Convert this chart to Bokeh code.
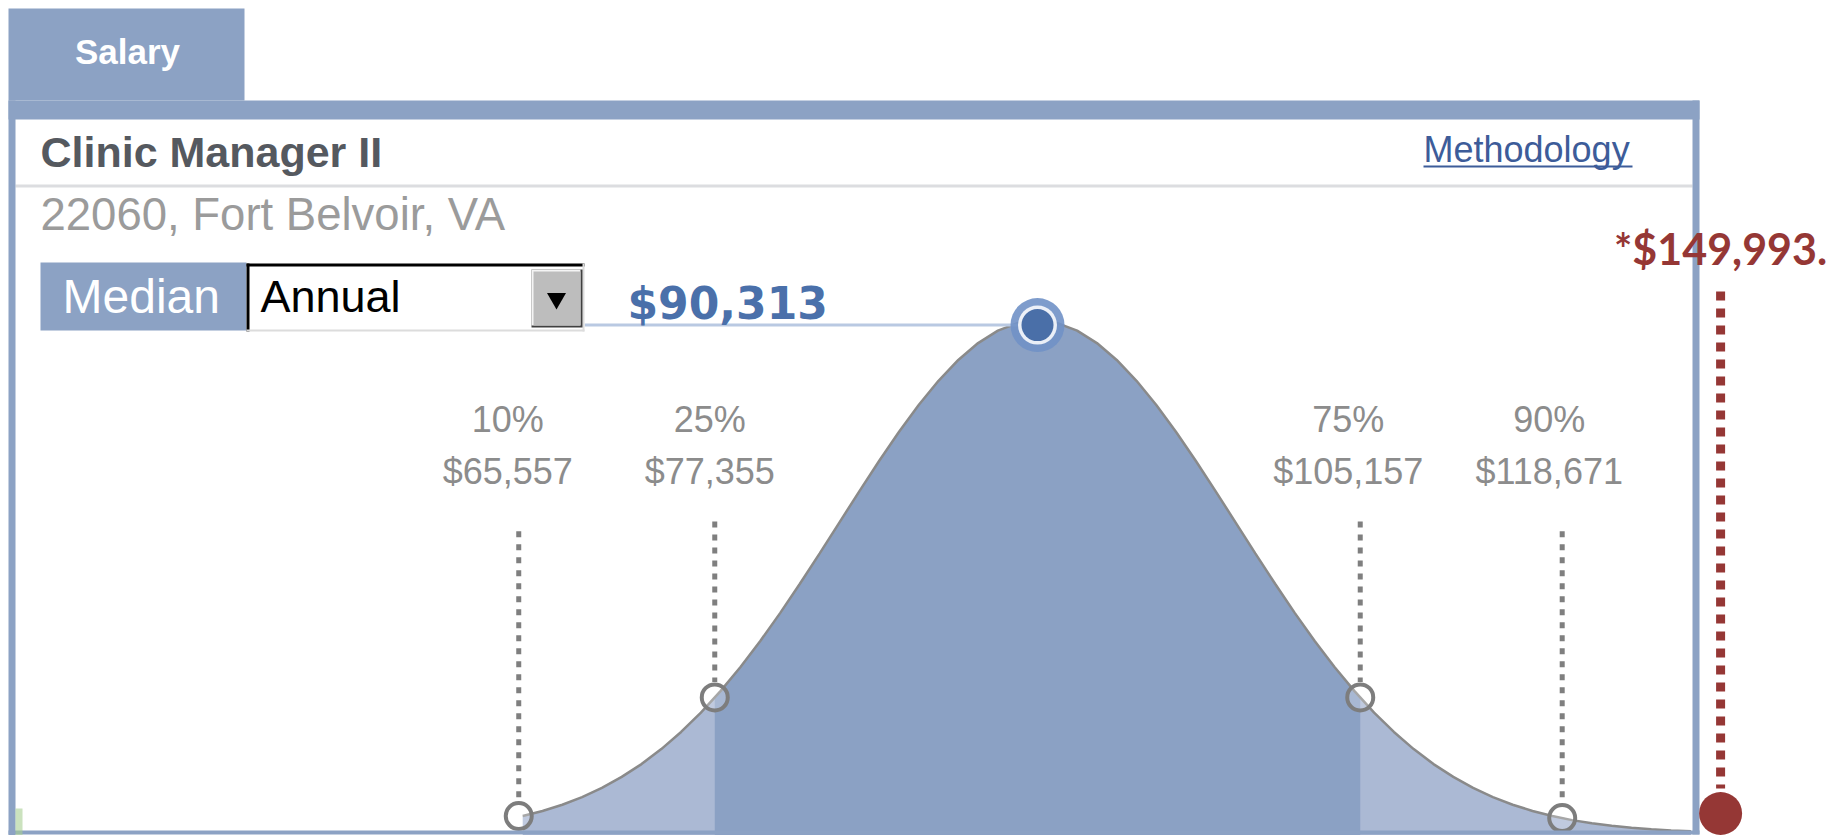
import numpy as np
from bokeh.plotting import figure
from bokeh.models import Range1d, ColumnDataSource
from bokeh.core.properties import value
from bokeh.embed import file_html
from bokeh.resources import INLINE

# ---------------- data ----------------
tab_label = "Salary"
job_title = "Clinic Manager II"
location = "22060, Fort Belvoir, VA"
link_label = "Methodology"
stat_label = "Median"
pay_period = "Annual"

pct_labels = ["10%", "25%", "75%", "90%"]
pct_salaries = [65557, 77355, 105157, 118671]
pct_pos = [-2.62, -1.63, 1.63, 2.65]          # location on the bell, in sd units
median_salary = 90313
median_pos = 0.0
max_salary = 149993
max_pos = 3.45

# bell-shape heights (relative to peak), step 0.1 sd
curve_z = [round(-2.6 + 0.1 * i, 1) for i in range(60)]
curve_h = [0.0340, 0.0439, 0.0561, 0.0710, 0.0889, 0.1103, 0.1353, 0.1645, 0.1979, 0.2357,
           0.2780, 0.3247, 0.3753, 0.4296, 0.4868, 0.5461, 0.6065, 0.6670, 0.7261, 0.7827,
           0.8353, 0.8825, 0.9231, 0.9560, 0.9802, 0.9950, 1.0000, 0.9950, 0.9802, 0.9560,
           0.9231, 0.8825, 0.8353, 0.7827, 0.7261, 0.6670, 0.6065, 0.5461, 0.4868, 0.4296,
           0.3753, 0.3247, 0.2780, 0.2357, 0.1979, 0.1645, 0.1353, 0.1103, 0.0889, 0.0710,
           0.0561, 0.0439, 0.0340, 0.0261, 0.0198, 0.0149, 0.0111, 0.0082, 0.0060, 0.0043]

# ---------------- layout ----------------
W, H = 1837, 835
PX0, SD = 1037, 198        # pixel of the median, pixels per sd
BASE, PEAK = 833, 513      # baseline pixel, pixels per unit height

BLUE = "#8ca2c4"
DARK_FILL = "#8ba1c4"
LIGHT_FILL = "#abb9d4"
MAROON = "#953735"
FONT = value("Liberation Sans")

p = figure(width=W, height=H, x_range=Range1d(0, W), y_range=Range1d(H, 0),
           output_backend="svg", toolbar_location=None, min_border=0,
           x_axis_location=None, y_axis_location=None,
           extra_x_ranges={"z": Range1d(-PX0 / SD, (W - PX0) / SD)},
           extra_y_ranges={"h": Range1d((BASE - H) / PEAK, BASE / PEAK)})
p.xgrid.visible = False
p.ygrid.visible = False
p.outline_line_color = None
p.background_fill_color = "white"
p.border_fill_color = "white"

# header separator
p.quad(left=15, right=1692, top=184, bottom=187, fill_color="#dcdde0", line_color=None)

# ---------------- bell curve ----------------
cz = np.array(curve_z)
ch = np.array(curve_h)
p.varea(x=cz, y1=(BASE - H) / PEAK, y2=ch, fill_color=LIGHT_FILL,
        x_range_name="z", y_range_name="h")
lo, hi = pct_pos[1], pct_pos[2]
mask = (cz > lo) & (cz < hi)
mz = np.concatenate([[lo], cz[mask], [hi]])
mh = np.interp(mz, cz, ch)
p.varea(x=mz, y1=(BASE - H) / PEAK, y2=mh, fill_color=DARK_FILL,
        x_range_name="z", y_range_name="h")
p.line(cz, ch, line_color="#8a8a8a", line_width=2.5, x_range_name="z", y_range_name="h")

# percentile guides and markers
h_at = np.interp(pct_pos, cz, ch)
guide_top = [0.589, 0.608, 0.608, 0.589]
src = ColumnDataSource(dict(
    x=pct_pos, h=h_at, top=guide_top, bot=h_at + 0.03,
    pct=pct_labels, sal=[f"${s:,}" for s in pct_salaries],
    xoff=[-11, -5, -12, -13]))
p.segment(x0="x", y0="top", x1="x", y1="bot", source=src, line_color="#7f7f7f",
          line_width=5, line_dash="6 7", x_range_name="z", y_range_name="h")
p.scatter(x="x", y="h", source=src, size=26, marker="circle", fill_color="white",
          fill_alpha=0.25, line_color="#7d7d7d", line_width=4,
          x_range_name="z", y_range_name="h")
p.text(x="x", y=419, text="pct", x_offset="xoff", source=src, text_font=FONT,
       text_font_size="36px", text_color="#8c8c8c", text_align="center",
       text_baseline="alphabetic", x_range_name="z")
p.text(x="x", y=471, text="sal", x_offset="xoff", source=src, text_font=FONT,
       text_font_size="36px", text_color="#8c8c8c", text_align="center",
       text_baseline="alphabetic", x_range_name="z")

# median line + marker
med_h = 0.991
p.segment(x0=[(584 - PX0) / SD], y0=[med_h], x1=[median_pos], y1=[med_h],
          line_color="#b9c9e2", line_width=3, x_range_name="z", y_range_name="h")
p.scatter(x=[median_pos], y=[med_h], size=54, fill_color="#7091c6", fill_alpha=0.9,
          line_color=None, x_range_name="z", y_range_name="h")
p.scatter(x=[median_pos], y=[med_h], size=39, fill_color="white", fill_alpha=0.85,
          line_color=None, x_range_name="z", y_range_name="h")
p.scatter(x=[median_pos], y=[med_h], size=32, fill_color="#4a6fa8",
          line_color=None, x_range_name="z", y_range_name="h")
p.text(x=[627], y=[303], text=[f"${median_salary:,}"], text_font=value("DejaVu Sans"),
       text_font_size="44px", text_font_style="bold", text_color="#4a70aa",
       text_baseline="alphabetic")

# ---------------- frame ----------------
for l, r, t, b in [(8, 244, 8, 100), (8, 1699, 100, 119), (8, 15, 100, 835),
                   (1692, 1699, 100, 834), (8, 1699, 830, 834)]:
    p.quad(left=l, right=r, top=t, bottom=b, fill_color=BLUE, line_color=None)
p.quad(left=15, right=22, top=808, bottom=835, fill_color="#a8cf92", fill_alpha=0.6,
       line_color=None)

p.text(x=[127], y=[51], text=[tab_label], text_font=FONT, text_font_size="35px",
       text_font_style="bold", text_color="white", text_align="center",
       text_baseline="alphabetic")
p.text(x=[40], y=[151], text=[job_title], text_font=FONT, text_font_size="43px",
       text_font_style="bold", text_color="#55595f", text_baseline="alphabetic")
p.text(x=[40], y=[214], text=[location], text_font=FONT, text_font_size="45.5px",
       text_color="#9b9b9b", text_baseline="alphabetic")
p.text(x=[1423], y=[149], text=[link_label], text_font=FONT, text_font_size="36px",
       text_color="#3d5c99", text_baseline="alphabetic")
p.segment(x0=[1423], y0=[166], x1=[1632], y1=[166], line_color="#3d5c99", line_width=2)

# median box + dropdown
p.quad(left=40, right=246, top=262, bottom=330, fill_color=BLUE, line_color=None)
p.text(x=[62], y=[296], text=[stat_label], text_font=FONT, text_font_size="48px",
       text_color="white", text_baseline="alphabetic")
p.quad(left=246, right=584, top=263, bottom=331, fill_color="white", line_color=None)
p.quad(left=246, right=584, top=263, bottom=266, fill_color="black", line_color=None)
p.quad(left=246, right=249, top=263, bottom=331, fill_color="black", line_color=None)
p.quad(left=246, right=584, top=329, bottom=331, fill_color="#dcdcdc", line_color=None)
p.quad(left=582, right=584, top=263, bottom=331, fill_color="#dcdcdc", line_color=None)
p.text(x=[260], y=[296], text=[pay_period], text_font=FONT, text_font_size="45px",
       text_color="black", text_baseline="alphabetic")
p.quad(left=531, right=582, top=269, bottom=327, fill_color="#404040", line_color=None)
p.quad(left=531, right=580, top=269, bottom=325, fill_color="#f4f4f4", line_color=None)
p.quad(left=533, right=580, top=271, bottom=325, fill_color="#bdbdbd", line_color=None)
p.scatter(x=[556], y=[298], marker="inverted_triangle", size=19, fill_color="black",
          line_color=None)

# ---------------- max annotation ----------------
p.segment(x0=[max_pos], y0=[291], x1=[max_pos], y1=[788], line_color=MAROON,
          line_width=9, line_dash="9 8", x_range_name="z")
p.scatter(x=[max_pos], y=[813], size=43, fill_color=MAROON, line_color=None,
          x_range_name="z")
p.text(x=[max_pos], y=[248], text=[f"*${max_salary:,}."], text_font=value("Lato"),
       text_font_size="43px", text_font_style="bold", text_color=MAROON,
       text_align="center", text_baseline="alphabetic", x_range_name="z")

open("out.html", "w").write(file_html(p, INLINE))
